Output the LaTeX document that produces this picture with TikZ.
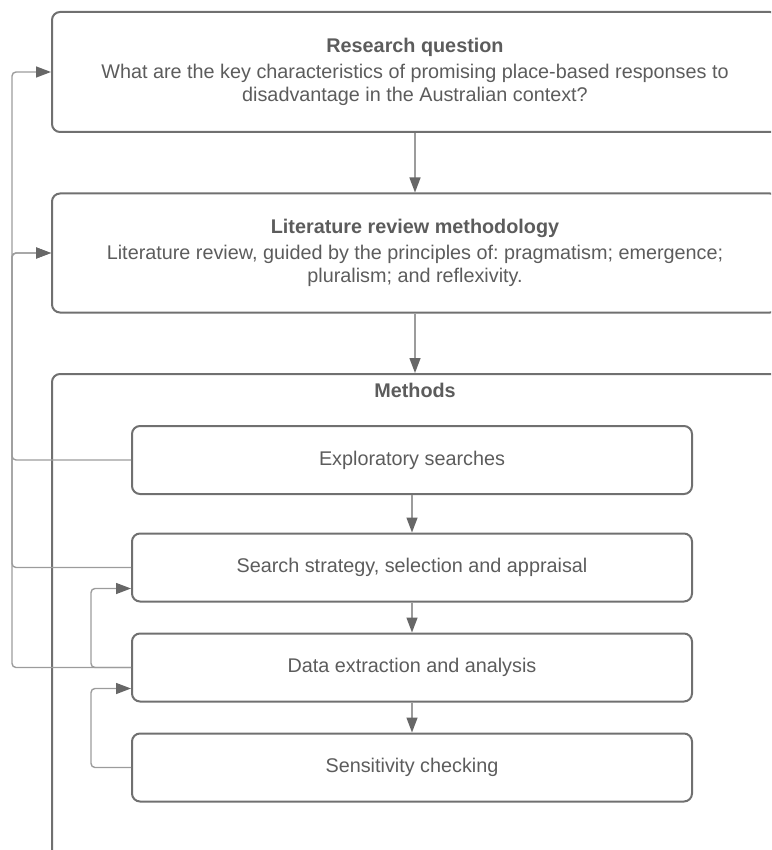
\documentclass[tikz,border=0pt]{standalone}
\usepackage{fontspec}
\setmainfont{Liberation Sans}
\usetikzlibrary{arrows.meta}
\frenchspacing

\definecolor{boxgray}{HTML}{707070}
\definecolor{linegray}{HTML}{9C9C9C}
\definecolor{tipgray}{HTML}{676767}
\definecolor{textgray}{HTML}{5C5C5C}

\begin{document}
\begin{tikzpicture}[x=1pt,y=-1pt,font=\fontsize{19.8}{23}\selectfont,text=textgray,
        outer/.style={draw=boxgray,line width=2pt,rounded corners=8pt,minimum width=726pt,align=center},
        inner/.style={draw=boxgray,line width=2pt,rounded corners=8pt,minimum width=560pt,minimum height=68pt},
        flow/.style={draw=linegray,line width=1.4pt,-{Triangle[length=15pt,width=11pt,color=tipgray]}},
        back/.style={flow,rounded corners=4pt},
        node distance=181pt]
        \clip (0,0) rectangle (771,850);
        \node[outer,minimum height=120pt] (rq) at (415,72) {\textbf{Research question}\\[3pt]
            What are the key characteristics of promising place-based responses to\\
            disadvantage in the Australian context?};
        \node[outer,minimum height=119pt] (lrm) [below of=rq] {\textbf{Literature review methodology}\\[3pt]
            Literature review, guided by the principles of: pragmatism; emergence;\\
            pluralism; and reflexivity.};
        \node[outer,minimum height=500pt,anchor=north] (meth) at (415,373) {};
        \node (methtitle) at ([yshift=-17pt]meth.north) {\textbf{Methods}};

        \node[inner] (expl) at (412,460) {Exploratory searches};
        \node[inner] (search) [below of=expl,node distance=107.5pt] {Search strategy, selection and appraisal};
        \node[inner] (data) [below of=search,node distance=100pt] {Data extraction and analysis};
        \node[inner] (sens) [below of=data,node distance=100pt] {Sensitivity checking};

        \coordinate (farleft) at (12,0);
        \coordinate (nearleft) at (91,0);
        \coordinate (searchin) at ([yshift=14pt]search.south west);
        \coordinate (datain) at ([yshift=14pt]data.south west);

        \path[flow] (rq) edge (lrm)
            (lrm) edge (meth)
            (expl) edge (search)
            (search) edge (data)
            (data) edge (sens);

        \draw[back] (expl.west) -| (farleft |- rq.west) -- (rq.west);
        \draw[back] (search.west) -| (farleft |- lrm.west) -- (lrm.west);
        \draw[back] (data.west) -| (farleft |- lrm.west) -- (lrm.west);
        \draw[back] (data.west) -| (nearleft |- searchin) -- (searchin);
        \draw[back] (sens.west) -| (nearleft |- datain) -- (datain);
    \end{tikzpicture}
\end{document}
